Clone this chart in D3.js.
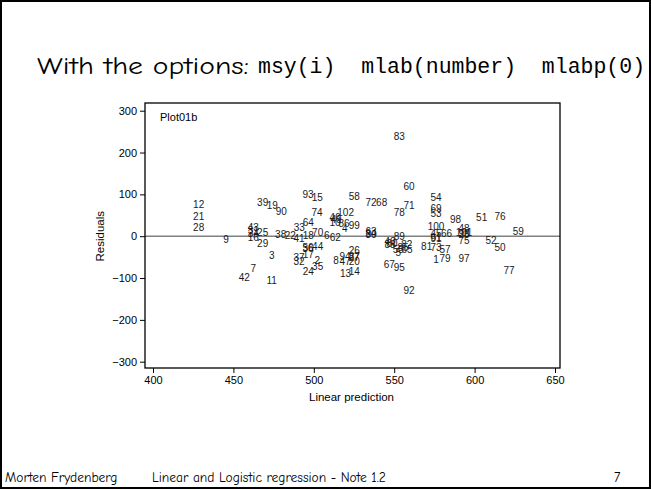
<!DOCTYPE html>
<html>
<head>
<meta charset="utf-8">
<script src="https://cdn.jsdelivr.net/npm/d3@7"></script>
<style>
  body { margin: 0; background: #fff; }
  text { white-space: pre; }
</style>
</head>
<body>
<script>
const obsNo = [
  1, 2, 3, 4, 5, 6, 7, 8, 9, 10,
  11, 12, 13, 14, 15, 16, 17, 18, 19, 20,
  21, 22, 23, 24, 25, 26, 27, 28, 29, 30,
  31, 32, 33, 34, 35, 36, 37, 38, 39, 40,
  41, 42, 43, 44, 45, 46, 47, 48, 49, 50,
  51, 52, 53, 54, 55, 56, 57, 58, 59, 60,
  61, 62, 63, 64, 65, 66, 67, 68, 69, 70,
  71, 72, 73, 74, 75, 76, 77, 78, 79, 80,
  81, 82, 83, 84, 85, 86, 87, 88, 89, 90,
  91, 92, 93, 94, 95, 96, 97, 98, 99, 100,
  101, 102
];
const linPred = [
  576.0, 502.2, 473.8, 519.2, 552.5, 508.0, 462.4, 513.8, 445.4, 513.2,
  473.8, 428.4, 519.8, 525.2, 502.2, 462.4, 496.6, 496.6, 474.2, 525.2,
  428.4, 485.4, 593.4, 496.6, 468.2, 525.2, 525.0, 428.4, 468.2, 535.6,
  462.4, 490.8, 491.0, 462.4, 502.4, 496.4, 490.8, 479.4, 468.2, 547.4,
  490.8, 456.8, 462.4, 502.4, 576.0, 513.2, 519.4, 593.4, 513.8, 615.8,
  604.4, 610.2, 576.0, 576.0, 552.5, 496.4, 581.6, 525.2, 627.2, 559.2,
  576.0, 513.4, 535.6, 496.6, 558.0, 582.6, 547.0, 542.2, 576.0, 502.4,
  559.2, 535.6, 576.0, 502.0, 593.4, 615.8, 621.4, 553.2, 581.6, 548.6,
  570.2, 557.8, 553.2, 535.6, 555.5, 518.8, 525.2, 547.4, 553.2, 479.8,
  576.0, 559.2, 496.4, 519.4, 553.2, 593.4, 593.4, 588.1, 525.2, 576.0,
  593.4, 519.8
];
const resid = [
  -55.7, -59.0, -45.4, 17.4, -39.9, 0.7, -78.2, -57.4, -7.2, 31.8,
  -105.2, 75.8, -89.1, -83.7, 91.5, -4.1, -43.0, 2.4, 74.1, -61.4,
  47.8, 0.7, 3.6, -83.7, 8.4, -33.5, -50.2, 19.8, -18.4, 3.6,
  13.1, -61.4, 19.8, 6.0, -71.7, -29.9, -50.9, 4.8, 80.5, -13.1,
  -6.5, -98.7, 19.8, -23.9, 6.5, 45.4, -59.8, 18.4, 39.4, -28.0,
  43.7, -11.2, 54.3, 91.5, -32.3, -27.0, -31.1, 93.9, 10.3, 119.5,
  -2.4, -4.1, 10.8, 31.8, -31.1, 6.5, -66.9, 80.5, 66.2, 8.8,
  74.1, 80.5, -28.0, 57.4, -9.6, 47.8, -82.9, 55.7, -53.3, -16.7,
  -25.6, -19.1, 237.3, 7.2, -27.0, 29.9, -47.8, -20.3, 0.0, 59.8,
  -5.5, -129.8, 100.4, -47.8, -74.8, 7.2, -53.3, 39.0, 24.6, 22.7,
  9.6, 55.7
];
const xTicks = [400, 450, 500, 550, 600, 650];
const yTicks = [-300, -200, -100, 0, 100, 200, 300];

const W = 651, H = 490;
const box = { left: 145, right: 560, top: 103, bottom: 368 };
const comic = "'Comic Sans MS', 'Comic Neue', 'DejaVu Sans', sans-serif";

const svg = d3.select("body").append("svg")
  .attr("width", W)
  .attr("height", H);

// slide frame
svg.append("rect")
  .attr("x", 1).attr("y", 1)
  .attr("width", W - 2).attr("height", H - 3)
  .attr("fill", "none")
  .attr("stroke", "#000")
  .attr("stroke-width", 2);

// slide title
svg.append("text")
  .attr("x", 37).attr("y", 74)
  .attr("font-family", comic)
  .attr("font-size", 25)
  .attr("textLength", 212)
  .attr("lengthAdjust", "spacingAndGlyphs")
  .text("With the options:");
svg.append("text")
  .attr("x", 258).attr("y", 73)
  .attr("font-family", "'Liberation Mono', 'DejaVu Sans Mono', monospace")
  .attr("font-size", 21.5)
  .text("msy(i)  mlab(number)  mlabp(0)");

// footer
const foot = svg.append("g")
  .attr("font-family", comic)
  .attr("font-size", 13.5)
  .attr("fill", "#000");
foot.append("text").attr("x", 5).attr("y", 482).text("Morten Frydenberg");
foot.append("text").attr("x", 152).attr("y", 482).text("Linear and Logistic regression - Note 1.2");
foot.append("text").attr("x", 614).attr("y", 482).text("7");

const x = d3.scaleLinear().domain([400, 650]).range([153, 555]);
const y = d3.scaleLinear().domain([-300, 300]).range([361.7, 110.7]);

const g = svg.append("g")
  .attr("font-family", "'Liberation Sans', Arial, Helvetica, sans-serif");

// zero reference line
g.append("line")
  .attr("x1", box.left).attr("x2", box.right)
  .attr("y1", y(0)).attr("y2", y(0))
  .attr("stroke", "#808080")
  .attr("stroke-width", 1.6);

// plot region
g.append("rect")
  .attr("x", box.left).attr("y", box.top)
  .attr("width", box.right - box.left)
  .attr("height", box.bottom - box.top)
  .attr("fill", "none")
  .attr("stroke", "#000")
  .attr("stroke-width", 1.3);

const xAxis = g.append("g")
  .attr("transform", `translate(0,${box.bottom})`)
  .call(d3.axisBottom(x).tickValues(xTicks).tickSize(5).tickPadding(3));
const yAxis = g.append("g")
  .attr("transform", `translate(${box.left},0)`)
  .call(d3.axisLeft(y).tickValues(yTicks).tickSize(5).tickPadding(3));

[xAxis, yAxis].forEach(a => {
  a.select(".domain").remove();
  a.selectAll("line").attr("stroke", "#000").attr("stroke-width", 1);
  a.selectAll("text")
    .attr("font-family", "'Liberation Sans', Arial, sans-serif")
    .attr("font-size", 11)
    .attr("fill", "#000");
});

g.append("text")
  .attr("x", (box.left + box.right) / 2 - 1)
  .attr("y", 401)
  .attr("text-anchor", "middle")
  .attr("font-size", 11.5)
  .text("Linear prediction");

g.append("text")
  .attr("transform", `translate(104,${y(0)}) rotate(-90)`)
  .attr("text-anchor", "middle")
  .attr("font-size", 11.5)
  .text("Residuals");

g.append("text")
  .attr("x", 160).attr("y", 121)
  .attr("font-size", 11)
  .text("Plot01b");

// marker labels centred on the points (msymbol invisible)
const pts = obsNo.map((n, i) => ({ n, xv: linPred[i], yv: resid[i] }));
g.selectAll("text.lab")
  .data(pts)
  .enter()
  .append("text")
  .attr("class", "lab")
  .attr("x", d => x(d.xv))
  .attr("y", d => y(d.yv))
  .attr("dy", "0.35em")
  .attr("text-anchor", "middle")
  .attr("font-size", 10)
  .attr("fill", "#1a1a1a")
  .text(d => d.n);
</script>
</body>
</html>
